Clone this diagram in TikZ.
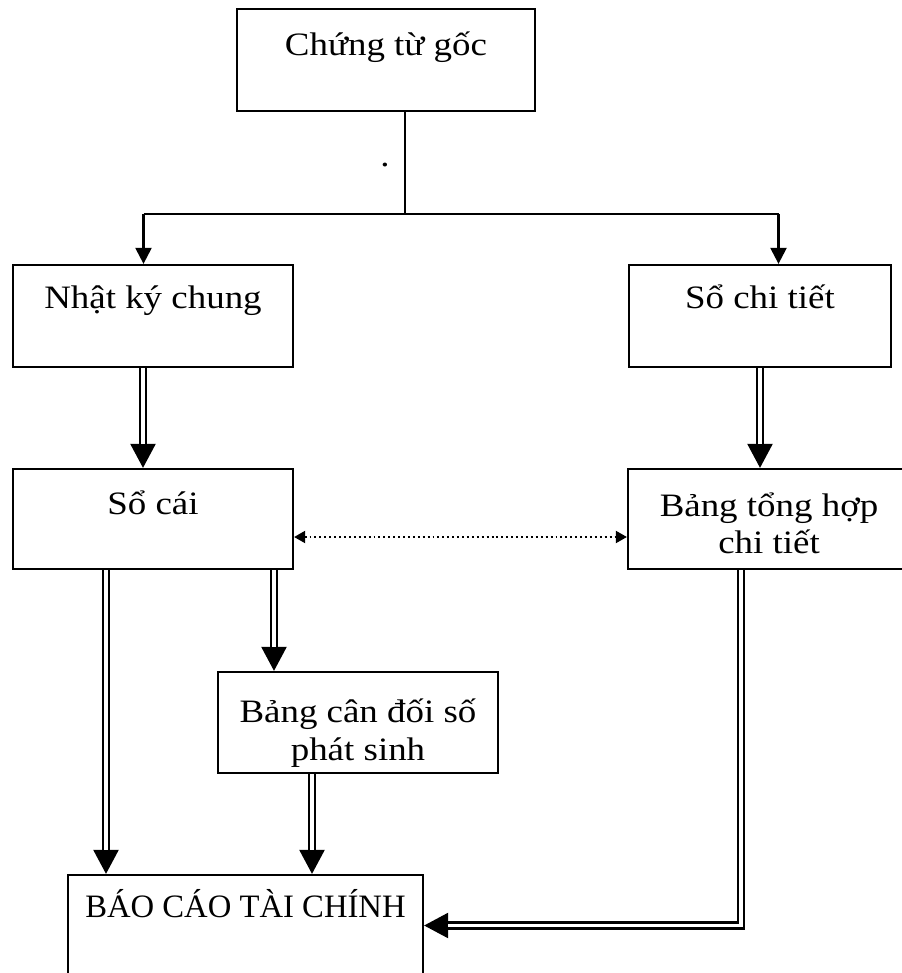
\documentclass[tikz,border=0pt]{standalone}
\usepackage{fontspec}
\setmainfont{Liberation Serif}[FakeStretch=1.13]
\newfontfamily\headfont{Liberation Serif}
\usetikzlibrary{arrows.meta}

\begin{document}
\begin{tikzpicture}[x=0.02cm, y=-0.02cm,
	box/.style={draw, line width=1.3pt, inner sep=0pt, align=center,
		font=\fontsize{18.6pt}{21.6pt}\selectfont},
	link/.style={line width=1.3pt},
	tip/.style={-{Triangle[length=0.32cm, width=0.32cm]}},
	bigtip/.style={line width=1.3pt, -{Triangle[length=0.48cm, width=0.5cm]}},
	dbl/.style={double, double distance=2pt, line width=1.3pt, shorten >=0.47cm},
	dots/.style={line width=1.1pt, dash pattern=on 1.1pt off 1.7pt,
		{Triangle[length=0.22cm, width=0.24cm]}-{Triangle[length=0.22cm, width=0.24cm]}}
]

\useasboundingbox (0,0) rectangle (902,973);

% BOXES
\node [box, minimum width=5.96cm, minimum height=2.04cm, text height=0.94cm, text depth=1.10cm] (goc) at (386,60) {Chứng từ gốc};
\node [box, minimum width=5.6cm, minimum height=2.04cm, text height=0.86cm, text depth=1.18cm] (nkc) at (153,316) {Nhật ký chung};
\node [box, minimum width=5.24cm, minimum height=2.04cm, text height=0.86cm, text depth=1.18cm] (sct) at (760,316) {Sổ chi tiết};
\node [box, minimum width=5.6cm, minimum height=2cm, text height=0.90cm, text depth=1.10cm] (socai) at (153,519) {Sổ cái};
\node [box, minimum width=5.64cm, minimum height=2cm, text height=1.70cm, text depth=0.30cm] (bth) at (769,519) {Bảng tổng hợp\\chi tiết};
\node [box, minimum width=5.6cm, minimum height=2.02cm, text height=1.76cm, text depth=0.26cm] (bcd) at (358,722.5) {Bảng cân đối số\\phát sinh};
\node [box, font=\headfont\fontsize{18.6pt}{21.6pt}\selectfont, minimum width=7.1cm, minimum height=2.6cm, text height=0.84cm, text depth=1.76cm] (bctc) at (245.5,940) {BÁO CÁO TÀI CHÍNH};
\node [font=\fontsize{18.6pt}{21.6pt}\selectfont, anchor=base, inner sep=0pt] (dot) at (385,167) {.};

% GUIDES
\coordinate (fork) at (405,214);
\coordinate (gl) at (143.5,214);
\coordinate (gr) at (778.5,214);
\coordinate (xa) at (143,0);
\coordinate (xb) at (106,0);
\coordinate (xc) at (274,0);
\coordinate (xd) at (312,0);
\coordinate (xe) at (741,925.5);
\coordinate (ya) at (0,537);

% SINGLE ARROWS
\draw [link] (goc.south -| fork) -- (fork);
\draw [link] (gl) -- (gr);
\draw [link, tip] (gl) -- (nkc.north -| gl);
\draw [link, tip] (gr) -- (sct.north -| gr);

% DOUBLE ARROWS
\draw [bigtip] (nkc.south -| xa) -- (socai.north -| xa);
\draw [dbl] (nkc.south -| xa) -- (socai.north -| xa);
\draw [bigtip] (sct.south) -- (bth.north -| sct);
\draw [dbl] (sct.south) -- (bth.north -| sct);
\draw [bigtip] (socai.south -| xb) -- (bctc.north -| xb);
\draw [dbl] (socai.south -| xb) -- (bctc.north -| xb);
\draw [bigtip] (socai.south -| xc) -- (bcd.north -| xc);
\draw [dbl] (socai.south -| xc) -- (bcd.north -| xc);
\draw [bigtip] (bcd.south -| xd) -- (bctc.north -| xd);
\draw [dbl] (bcd.south -| xd) -- (bctc.north -| xd);
\draw [bigtip] (bth.south -| xe) |- (bctc.east |- xe);
\draw [dbl] (bth.south -| xe) |- (bctc.east |- xe);

% DOTTED LINK
\draw [dots] (socai.east |- ya) -- (bth.west |- ya);

\end{tikzpicture}
\end{document}
